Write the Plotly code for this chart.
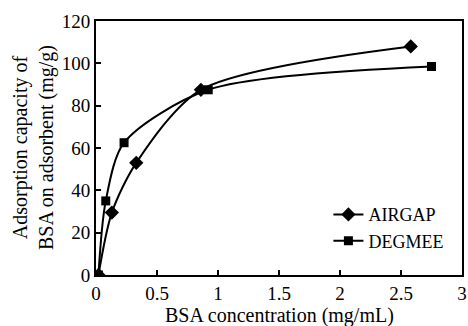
import plotly.graph_objects as go

airgap_x = [0.02, 0.13, 0.33, 0.86, 2.58]
airgap_y = [0, 29.5, 53, 87.5, 108]
degmee_x = [0.02, 0.08, 0.23, 0.92, 2.75]
degmee_y = [0, 35, 62.5, 87.5, 98.5]
x_ticks = [0, 0.5, 1, 1.5, 2, 2.5, 3]
x_tick_labels = ["0", "0.5", "1", "1.5", "2", "2.5", "3"]
y_ticks = [0, 20, 40, 60, 80, 100, 120]
x_title = "BSA concentration (mg/mL)"
y_title = "Adsorption capacity of<br>BSA on adsorbent (mg/g)"

FONT = "Liberation Serif, Times New Roman, DejaVu Serif, serif"
FS_TICK = 19
FS_TITLE = 20

fig = go.Figure()
fig.add_trace(go.Scatter(
    x=airgap_x, y=airgap_y, name="AIRGAP", mode="lines+markers",
    line=dict(color="black", width=2, shape="spline", smoothing=0.8),
    marker=dict(symbol="diamond", size=11, color="black"),
))
fig.add_trace(go.Scatter(
    x=degmee_x, y=degmee_y, name="DEGMEE", mode="lines+markers",
    line=dict(color="black", width=2, shape="spline", smoothing=0.8),
    marker=dict(symbol="square", size=9, color="black"),
))

axis_common = dict(
    showgrid=False, zeroline=False, showline=True, linecolor="black",
    linewidth=2, mirror=True, ticks="inside", ticklen=5, tickwidth=1.5,
    tickcolor="black", tickfont=dict(family=FONT, size=FS_TICK, color="black"),
    automargin=False,
)
fig.update_xaxes(
    range=[0, 3], tickvals=x_ticks, ticktext=x_tick_labels,
    ticklabelstandoff=0,
    **axis_common,
)
fig.update_yaxes(
    range=[0, 120], tickvals=y_ticks, ticklabelstandoff=0,
    **axis_common,
)
fig.add_annotation(
    text=x_title, xref="paper", yref="paper", x=0.5, y=0, yshift=-40,
    xanchor="center", yanchor="middle", showarrow=False,
    font=dict(family=FONT, size=FS_TITLE, color="black"),
)
fig.add_annotation(
    text=y_title, xref="paper", yref="paper", x=0, y=0.5, xshift=-63,
    xanchor="center", yanchor="middle", showarrow=False, textangle=-90,
    font=dict(family=FONT, size=FS_TITLE, color="black"),
)
fig.update_layout(
    width=468, height=326,
    margin=dict(l=96, r=6, t=21, b=51),
    paper_bgcolor="white", plot_bgcolor="white",
    font=dict(family=FONT, color="black"),
    legend=dict(x=0.635, xanchor="left", y=0.31, yanchor="top",
                bgcolor="rgba(0,0,0,0)", font=dict(family=FONT, size=18, color="black"),
                tracegroupgap=0, itemwidth=30),
    showlegend=True,
)
fig.write_html(
    "out.html",
    config={"displayModeBar": False},
    post_script="document.body.style.margin='0';document.body.style.overflow='hidden';",
)
